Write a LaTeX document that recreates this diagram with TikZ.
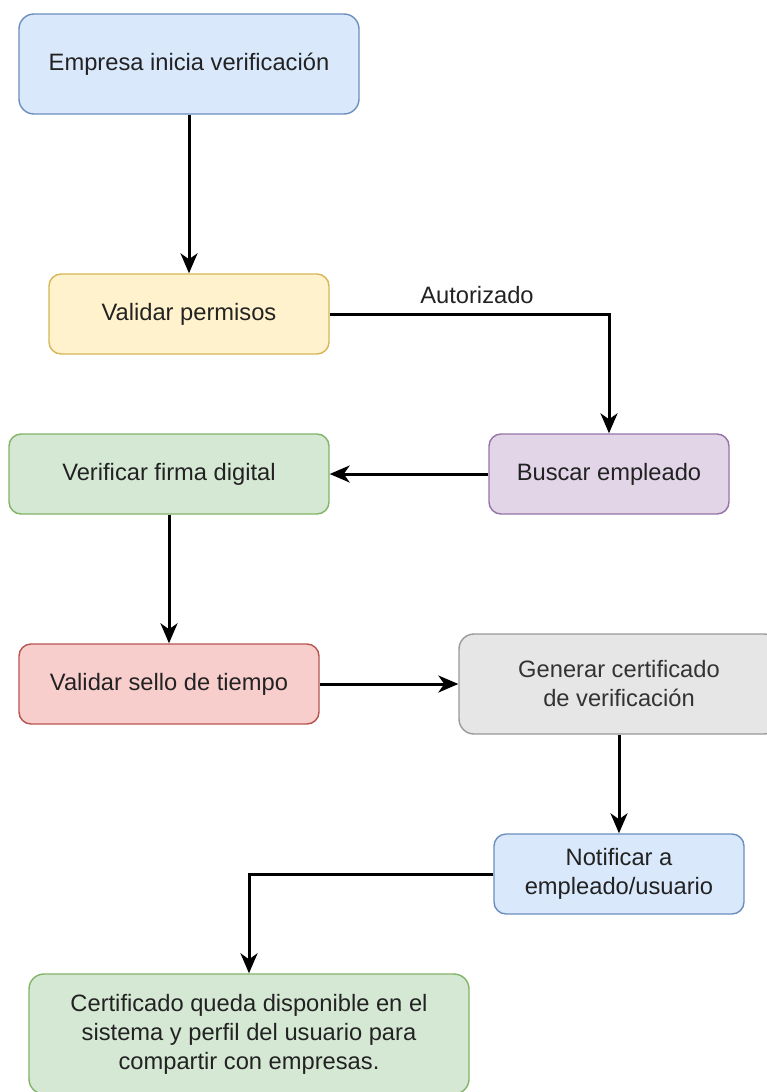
\documentclass[tikz,border=0pt]{standalone}
\usepackage{fontspec}
\setmainfont{Liberation Sans}
\usetikzlibrary{arrows.meta}

\definecolor{blueFill}{HTML}{DAE8FC}\definecolor{blueLine}{HTML}{6C8EBF}
\definecolor{yelFill}{HTML}{FFF2CC}\definecolor{yelLine}{HTML}{D6B656}
\definecolor{grnFill}{HTML}{D5E8D4}\definecolor{grnLine}{HTML}{82B366}
\definecolor{redFill}{HTML}{F8CECC}\definecolor{redLine}{HTML}{B85450}
\definecolor{purFill}{HTML}{E1D5E7}\definecolor{purLine}{HTML}{9673A6}
\definecolor{gryFill}{HTML}{E6E6E6}\definecolor{gryLine}{HTML}{999999}
\definecolor{txt}{HTML}{222222}
\definecolor{txtGray}{HTML}{333333}

\tikzset{
  box/.style={draw, rounded corners=12pt, line width=1.4pt, inner sep=0pt,
    align=center, text=txt, font=\fontsize{23.7}{29}\selectfont},
  bluebox/.style={box, fill=blueFill, draw=blueLine},
  yelbox/.style={box, fill=yelFill, draw=yelLine},
  grnbox/.style={box, fill=grnFill, draw=grnLine},
  redbox/.style={box, fill=redFill, draw=redLine},
  purbox/.style={box, fill=purFill, draw=purLine},
  grybox/.style={box, fill=gryFill, draw=gryLine, text=txtGray},
  flow/.style={draw=black, line width=3pt,
    -{Stealth[length=20pt, width=17pt, inset=6pt]}},
  lbl/.style={text=txt, font=\fontsize{23.7}{29}\selectfont, inner sep=0pt}
}

\begin{document}
\begin{tikzpicture}[x=1pt, y=-1pt]
  \useasboundingbox (0,0) rectangle (767,1092);

  \node[bluebox, minimum width=340pt, minimum height=100pt, rounded corners=15pt] (n1) at (189,64) {Empresa inicia verificación};
  \node[yelbox, minimum width=280pt, minimum height=80pt] (n2) at (189,314) {Validar permisos};
  \node[purbox, minimum width=240pt, minimum height=80pt] (n3) at (609,474) {Buscar empleado};
  \node[grnbox, minimum width=320pt, minimum height=80pt] (n4) at (169,474) {Verificar firma digital};
  \node[redbox, minimum width=300pt, minimum height=80pt] (n5) at (169,684) {Validar sello de tiempo};
  \node[grybox, minimum width=320pt, minimum height=100pt, rounded corners=15pt] (n6) at (619,684) {Generar certificado\\de verificación};
  \node[bluebox, minimum width=250pt, minimum height=80pt] (n7) at (619,874) {Notificar a\\empleado/usuario};
  \node[grnbox, minimum width=440pt, minimum height=120pt, rounded corners=15pt] (n8) at (249,1034) {Certificado queda disponible en el\\sistema y perfil del usuario para\\compartir con empresas.};

  \node[lbl] (lab) at (477,295) {Autorizado};

  \draw[flow] (n1) -- (n2);
  \draw[flow] (n2.east) -| (n3.north);
  \draw[flow] (n3) -- (n4);
  \draw[flow] (n4) -- (n5);
  \draw[flow] (n5) -- (n6);
  \draw[flow] (n6) -- (n7);
  \draw[flow] (n7.west) -| (n8.north);
\end{tikzpicture}
\end{document}
